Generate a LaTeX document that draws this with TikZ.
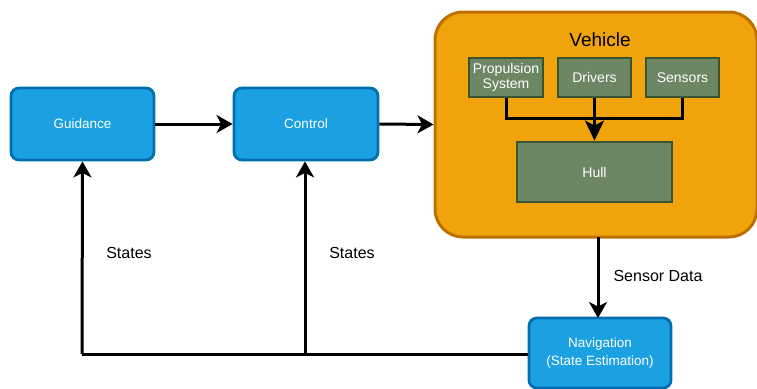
\documentclass[tikz,border=0pt]{standalone}
\usepackage{fontspec}
\setmainfont{Liberation Sans}
\usetikzlibrary{arrows.meta}
\definecolor{bluefill}{HTML}{1BA1E2}
\definecolor{blueline}{HTML}{006EAF}
\definecolor{orfill}{HTML}{F0A30A}
\definecolor{orline}{HTML}{BD7000}
\definecolor{grfill}{HTML}{6D8764}
\definecolor{grline}{HTML}{3A5431}
\tikzset{
  bluebox/.style={draw=blueline, fill=bluefill, line width=2.8pt, rounded corners=8pt,
    text=white, font=\fontsize{13.5}{15}\selectfont, align=center, inner sep=0pt},
  greenbox/.style={draw=grline, fill=grfill, line width=2.8pt,
    text=white, font=\fontsize{14}{15.5}\selectfont, align=center, inner sep=0pt},
  conn/.style={line width=3pt, -{Stealth[length=16pt,width=18pt,inset=4.5pt]}},
  bigconn/.style={line width=3pt, -{Stealth[length=20pt,width=19pt,inset=5pt]}},
  plain/.style={line width=3pt},
  lbl/.style={font=\fontsize{16}{18}\selectfont, inner sep=0pt}
}
\begin{document}
\begin{tikzpicture}[x=1pt,y=-1pt]
\useasboundingbox (0,0) rectangle (757,388);
% vehicle container
\node[draw=orline, fill=orfill, line width=3pt, rounded corners=28pt,
  minimum width=322pt, minimum height=225pt, inner sep=0pt] (veh) at (596,124.5) {};
\node[font=\fontsize{19}{21}\selectfont, inner sep=0pt] (vtitle) at (600,40) {Vehicle};
% blue nodes
\node[bluebox, minimum width=143pt, minimum height=72pt] (guid) at (82.5,124) {Guidance};
\node[bluebox, minimum width=144pt, minimum height=72pt] (ctrl) at (306,124) {Control};
\node[bluebox, minimum width=142pt, minimum height=70pt, font=\fontsize{13.5}{18}\selectfont] (nav) at (600,353) {Navigation\\(State Estimation)};
% green nodes
\node[greenbox, minimum width=74pt, minimum height=39pt] (prop) at (506,77.5) {Propulsion\\System};
\node[greenbox, minimum width=73pt, minimum height=39pt] (drv) at (594.5,77.5) {Drivers};
\node[greenbox, minimum width=73pt, minimum height=39pt] (sens) at (682.5,77.5) {Sensors};
\node[greenbox, minimum width=155pt, minimum height=60pt] (hull) at (594.5,172) {Hull};
% connectors
\draw[conn] (guid.east) -- (ctrl.west);
\draw[conn] (ctrl.east) -- (veh.west);
\coordinate (mj) at (594.5,118);
\draw[plain] (prop.south) |- (mj);
\draw[plain] (sens.south) |- (mj);
\draw[bigconn] (drv.south) -- (hull.north);
\coordinate (vb) at (598,237);
\coordinate (nt) at (598,318);
\draw[conn] (vb) -- (nt);
\coordinate (fb) at (82,354);
\coordinate (jn) at (305,354);
\draw[plain] (nav.west |- jn) -- (fb);
\draw[conn] (fb) -- (guid.south);
\draw[conn] (jn) -- (ctrl.south -| jn);
% labels
\node[lbl] (s1) at (129,253) {States};
\node[lbl] (s2) at (352,253) {States};
\node[lbl] (sd) at (658,276) {Sensor Data};
\end{tikzpicture}
\end{document}
